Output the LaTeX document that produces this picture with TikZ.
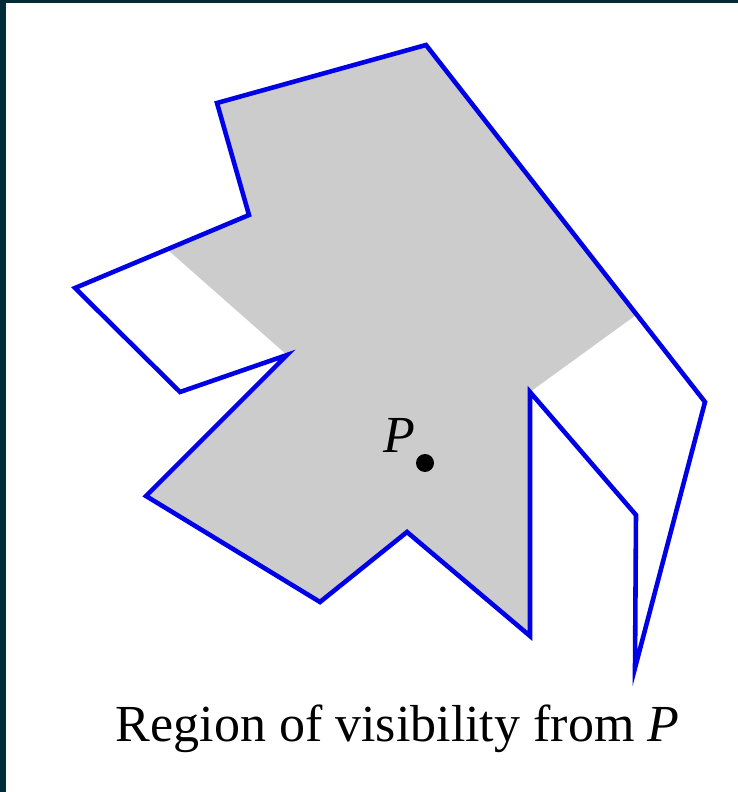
\documentclass[tikz,border=0pt]{standalone}
\usepackage{fontspec}
\setmainfont{Liberation Serif}
\usetikzlibrary{positioning,calc}

\definecolor{darkframe}{RGB}{2,43,56}
\definecolor{visgray}{RGB}{204,204,204}
\definecolor{wallblue}{RGB}{0,0,230}

\begin{document}
\begin{tikzpicture}
  \useasboundingbox (0, 0) rectangle (14.76, 15.84);
  \fill[white] (0, 0) rectangle (14.76, 15.84);
  % Dark frame on the left and top
  \fill[darkframe] (0, 0) rectangle (0.12, 15.84);
  \fill[darkframe] (0, 15.78) rectangle (14.76, 15.84);

  % Corners of the polygon
  \coordinate (a) at (8.52, 14.94);
  \coordinate (b) at (4.34, 13.78);
  \coordinate (c) at (4.98, 11.54);
  \coordinate (d) at (1.50, 10.08);
  \coordinate (e) at (3.60, 8.00);
  \coordinate (f) at (5.74, 8.74);
  \coordinate (g) at (2.92, 5.92);
  \coordinate (h) at (6.40, 3.80);
  \coordinate (i) at (8.14, 5.20);
  \coordinate (j) at (10.60, 3.12);
  \coordinate (k) at (10.60, 8.00);
  \coordinate (l) at (12.72, 5.54);
  \coordinate (m) at (12.70, 2.48);
  \coordinate (n) at (14.10, 7.80);

  % Where the shadows meet the walls
  \coordinate (ls) at ($(c)!0.47!(d)$);
  \coordinate (rs) at ($(a)!0.755!(n)$);

  % Visible region
  \fill[visgray] (a) -- (b) -- (c) -- (ls) -- (f) -- (g) -- (h) -- (i) -- (j) -- (k) -- (rs) -- cycle;

  % Walls
  \draw[wallblue, line width=2.6pt] (a) -- (b) -- (c) -- (d) -- (e) -- (f) -- (g) -- (h) -- (i) -- (j) -- (k) -- (l) -- (m) -- (n) -- cycle;

  % Point P
  \node[circle, fill, inner sep=0pt, minimum size=0.36cm] (dot) at (8.50, 6.58) {};
  \node[font=\fontsize{29.6}{36}\selectfont, inner sep=0pt, anchor=base] (plabel) at (7.98, 6.78) {\textit{P}};

  % Caption
  \node[font=\fontsize{29.6}{36}\selectfont, inner sep=0pt, anchor=base] (caption) at (7.95, 1.0) {Region of visibility from \textit{P}};
\end{tikzpicture}
\end{document}
